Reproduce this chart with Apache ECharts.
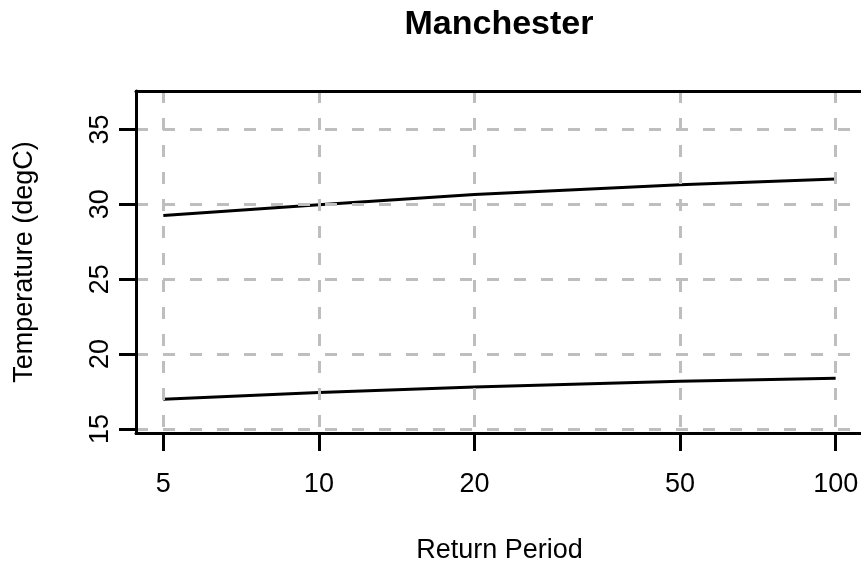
<!DOCTYPE html>
<html>
<head>
<meta charset="utf-8">
<script src="https://cdn.jsdelivr.net/npm/echarts@6/dist/echarts.min.js"></script>
<style>html,body{margin:0;padding:0;background:#fff}#c{width:861px;height:563px}</style>
</head>
<body>
<div id="c"></div>
<script>
var titleText = 'Manchester';
var xName = 'Return Period';
var yName = 'Temperature (degC)';
var returnPeriods = [5, 10, 20, 50, 100];
var upperLevels = [29.25, 29.98, 30.65, 31.31, 31.69];
var lowerLevels = [16.98, 17.43, 17.80, 18.18, 18.38];
var xTicks = [5, 10, 20, 50, 100];
var yTicks = [15, 20, 25, 30, 35];

var FONT = 'Liberation Sans';
var logX = function (v) { return Math.log10(v); };
var xMin = 0.6461, xMax = 2.0529;

function pairs(xs, ys) { return xs.map(function (x, i) { return [logX(x), ys[i]]; }); }

var chart = echarts.init(document.getElementById('c'), null, {renderer: 'canvas'});
var gridDash = {color: '#bebebe', width: 3, type: [12, 15]};
chart.setOption({
  animation: false,
  backgroundColor: '#fff',
  graphic: [{
    type: 'text', x: 499, y: 25,
    style: {text: titleText, font: 'bold 34px "' + FONT + '"', fill: '#000', align: 'center', verticalAlign: 'middle'}
  }],
  grid: {left: 136, right: -2, top: 91, bottom: 130, outerBoundsMode: 'none', containLabel: false},
  xAxis: [{
    type: 'value', min: xMin, max: xMax, z: 3,
    name: xName, nameLocation: 'middle', nameGap: 104,
    nameTextStyle: {fontFamily: FONT, fontSize: 27, color: '#000'},
    axisLine: {show: true, lineStyle: {color: '#000', width: 3}},
    axisTick: {show: true, length: 18, lineStyle: {color: '#000', width: 3}, customValues: xTicks.map(logX)},
    axisLabel: {fontFamily: FONT, fontSize: 27, color: '#000', margin: 38, customValues: xTicks.map(logX),
      formatter: function (v) { return String(Math.round(Math.pow(10, v))); }},
    splitLine: {show: true, lineStyle: gridDash}
  }, {
    type: 'value', min: xMin, max: xMax, position: 'top', z: 3,
    axisLine: {show: true, onZero: false, lineStyle: {color: '#000', width: 3}},
    axisTick: {show: false}, axisLabel: {show: false}, splitLine: {show: false}
  }],
  yAxis: [{
    type: 'value', min: 14.73, max: 37.57, z: 3,
    name: yName, nameLocation: 'middle', nameGap: 98, nameRotate: 90,
    nameTextStyle: {fontFamily: FONT, fontSize: 27, color: '#000'},
    axisLine: {show: true, lineStyle: {color: '#000', width: 3}},
    axisTick: {show: true, length: 17, lineStyle: {color: '#000', width: 3}, customValues: yTicks},
    axisLabel: {fontFamily: FONT, fontSize: 27, color: '#000', margin: 22, rotate: 90, customValues: yTicks},
    splitLine: {show: true, lineStyle: gridDash}
  }],
  series: [{
    type: 'line', data: pairs(returnPeriods, upperLevels), showSymbol: false, symbol: 'none',
    lineStyle: {color: '#000', width: 3}, z: 2
  }, {
    type: 'line', data: pairs(returnPeriods, lowerLevels), showSymbol: false, symbol: 'none',
    lineStyle: {color: '#000', width: 3}, z: 2
  }]
});
</script>
</body>
</html>
